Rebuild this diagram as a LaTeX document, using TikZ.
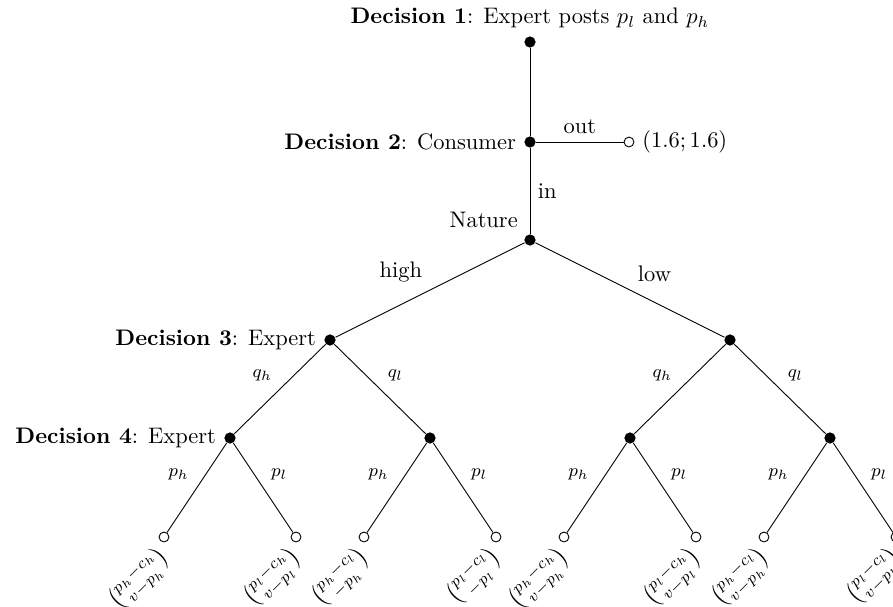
\documentclass[tikz,border=0pt]{standalone}
\usepackage{amsmath}
\usetikzlibrary{calc}

\tikzset{
  decnode/.style={circle, fill=black, inner sep=0pt, minimum size=5pt},
  endnode/.style={circle, draw=black, fill=white, inner sep=0pt, minimum size=4.4pt},
  brlab/.style={font=\footnotesize},
  payoff/.style={rotate=45, anchor=north east, inner sep=1pt}
}

\begin{document}
\begin{tikzpicture}[x=0.445pt,y=0.445pt,yscale=-1,xscale=1]
	\useasboundingbox (0,0) rectangle (893,606);

	%Decision nodes
	\node[decnode] (d1) at (530,42) {};
	\node[decnode] (d2) at (530,142) {};
	\node[decnode] (nat) at (530,240) {};
	\node[decnode] (hi) at (330,340) {};
	\node[decnode] (lo) at (730,340) {};
	\node[decnode] (hiqh) at (230,438) {};
	\node[decnode] (hiql) at (430,438) {};
	\node[decnode] (loqh) at (630,438) {};
	\node[decnode] (loql) at (830,438) {};

	%Terminal nodes
	\node[endnode] (out) at (629,142) {};
	\foreach \n/\x in {hiqh/230, hiql/430, loqh/630, loql/830}{
		\node[endnode] (\n-h) at (\x-66,537) {};
		\node[endnode] (\n-l) at (\x+66,537) {};
	}

	%Branches
	\draw (d1) -- (d2);
	\draw (d2) -- node[above] {out} (out);
	\draw (d2) -- node[right] {in} (nat);
	\draw (nat) -- node[above left] {high} (hi);
	\draw (nat) -- node[above right] {low} (lo);
	\foreach \p/\a/\b in {hi/hiqh/hiql, lo/loqh/loql}{
		\draw (\p) -- node[brlab, above left] {$q_h$} (\a);
		\draw (\p) -- node[brlab, above right] {$q_l$} (\b);
	}
	\foreach \n in {hiqh, hiql, loqh, loql}{
		\draw (\n) -- node[brlab, above left] {$p_h$} (\n-h);
		\draw (\n) -- node[brlab, above right] {$p_l$} (\n-l);
	}

	% Text Node
	\node[above] (d1lab) at (d1.north) {\textbf{Decision 1}: Expert posts $p_l$ and $p_h$};
	% Text Node
	\node[left] (d2lab) at (d2.west) {\textbf{Decision 2}: Consumer};
	% Text Node
	\node[above left] (natlab) at (nat.north west) {Nature};
	% Text Node
	\node[left] (d3lab) at (hi.west) {\textbf{Decision 3}: Expert};
	% Text Node
	\node[left] (d4lab) at (hiqh.west) {\textbf{Decision 4}: Expert};
	% Text Node
	\node[right] (outpay) at (out.east) {$(1.6;1.6)$};

	%Payoffs
	\foreach \n/\t/\b in {hiqh-h/p_h-c_h/v-p_h, hiqh-l/p_l-c_h/v-p_l,
		hiql-h/p_h-c_l/-p_h, hiql-l/p_l-c_l/-p_l,
		loqh-h/p_h-c_h/v-p_h, loqh-l/p_l-c_h/v-p_l,
		loql-h/p_h-c_l/v-p_h, loql-l/p_l-c_l/v-p_l}{
		\node[payoff] (pay-\n) at ($(\n.south)+(-9,-3)$) {$\binom{\t}{\b}$};
	}

\end{tikzpicture}
\end{document}
